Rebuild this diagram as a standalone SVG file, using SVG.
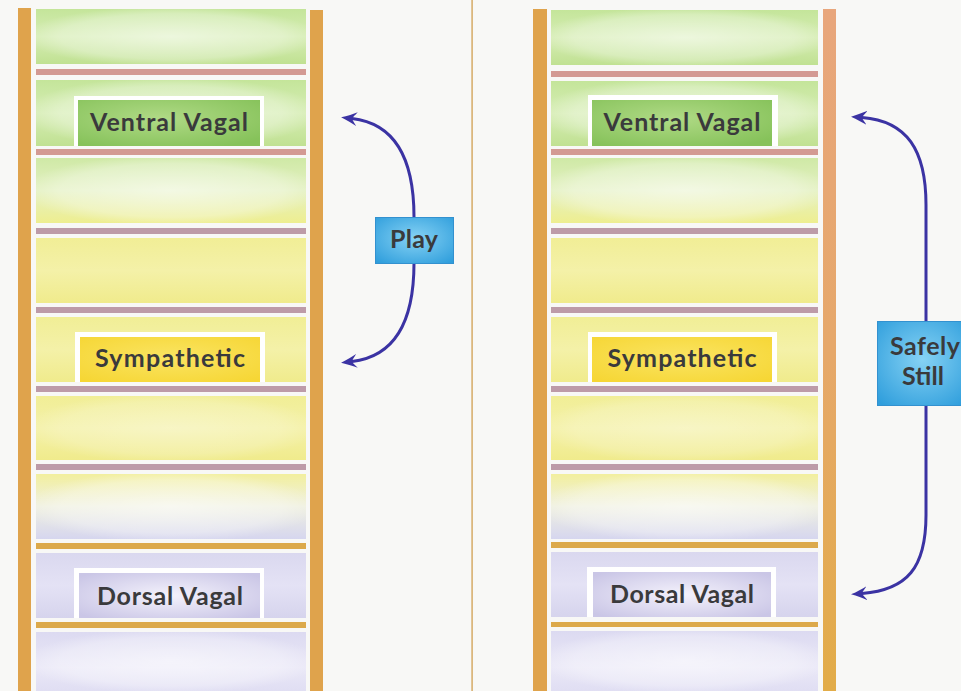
<svg xmlns="http://www.w3.org/2000/svg" width="961" height="691" viewBox="0 0 961 691">
  <defs>
    <style>
      .rail { fill: #dfa34c; }
      .rung-pink { fill: #d39a93; }
      .rung-mauve { fill: #bd9ba8; }
      .rung-gold { fill: #dca94b; }
      .mat { fill: #ffffff; }
      .lbl { font-family: Lato, "Open Sans", "Liberation Sans", sans-serif; font-weight: 700; fill: #3a3a3c; text-anchor: middle; font-size: 25px; }
      .conn { fill: none; stroke: #3b33a3; stroke-width: 3; stroke-linecap: round; }
      .tag { stroke: #3391cf; stroke-width: 1; }
    </style>
    <!-- band fills -->
    <linearGradient id="bGreen" x1="0" y1="0" x2="0" y2="1">
      <stop offset="0" stop-color="#c4e59a"/>
      <stop offset="0.5" stop-color="#d6edb4"/>
      <stop offset="1" stop-color="#c0e192"/>
    </linearGradient>
    <linearGradient id="bGreenYellow" x1="0" y1="0" x2="0" y2="1">
      <stop offset="0" stop-color="#cfe9a6"/>
      <stop offset="0.5" stop-color="#e4f1c2"/>
      <stop offset="1" stop-color="#eeee90"/>
    </linearGradient>
    <linearGradient id="bYellow" x1="0" y1="0" x2="0" y2="1">
      <stop offset="0" stop-color="#f1ee96"/>
      <stop offset="0.5" stop-color="#f4f1a8"/>
      <stop offset="1" stop-color="#f0eb8c"/>
    </linearGradient>
    <linearGradient id="bYellowLilac" x1="0" y1="0" x2="0" y2="1">
      <stop offset="0" stop-color="#f2ef9e"/>
      <stop offset="0.5" stop-color="#eff0e0"/>
      <stop offset="1" stop-color="#d6d6ef"/>
    </linearGradient>
    <linearGradient id="bLilac" x1="0" y1="0" x2="0" y2="1">
      <stop offset="0" stop-color="#dad8ef"/>
      <stop offset="0.5" stop-color="#e4e2f5"/>
      <stop offset="1" stop-color="#d6d4ed"/>
    </linearGradient>
    <linearGradient id="bLilacPale" x1="0" y1="0" x2="0" y2="1">
      <stop offset="0" stop-color="#dcdaf1"/>
      <stop offset="0.6" stop-color="#eae8f7"/>
      <stop offset="1" stop-color="#e0def3"/>
    </linearGradient>
    <radialGradient id="haze" cx="0.5" cy="0.5" r="0.55">
      <stop offset="0" stop-color="#ffffff" stop-opacity="0.55"/>
      <stop offset="0.75" stop-color="#ffffff" stop-opacity="0.3"/>
      <stop offset="1" stop-color="#ffffff" stop-opacity="0"/>
    </radialGradient>
    <!-- label fills -->
    <radialGradient id="lGreen" cx="0.45" cy="0.4" r="0.7">
      <stop offset="0" stop-color="#b0da86"/>
      <stop offset="1" stop-color="#86c25a"/>
    </radialGradient>
    <radialGradient id="lYellow" cx="0.5" cy="0.45" r="0.7">
      <stop offset="0" stop-color="#fae462"/>
      <stop offset="1" stop-color="#f6d634"/>
    </radialGradient>
    <radialGradient id="lLilac" cx="0.5" cy="0.5" r="0.65">
      <stop offset="0" stop-color="#f4f2fc"/>
      <stop offset="1" stop-color="#cac6e6"/>
    </radialGradient>
    <radialGradient id="lBlue" cx="0.5" cy="0.45" r="0.7">
      <stop offset="0" stop-color="#86d2f4"/>
      <stop offset="1" stop-color="#2f9edc"/>
    </radialGradient>
    <linearGradient id="railSalmon" x1="0" y1="0" x2="0" y2="1">
      <stop offset="0" stop-color="#e8a67c"/>
      <stop offset="0.5" stop-color="#e6a86a"/>
      <stop offset="1" stop-color="#e2ac48"/>
    </linearGradient>
    <marker id="head" viewBox="0 0 16 14" refX="5" refY="7" markerWidth="16" markerHeight="14" markerUnits="userSpaceOnUse" orient="auto">
      <path d="M16,7 C10,5 4,2 0,0 C3,4 5,6 5,7 C5,8 3,10 0,14 C4,12 10,9 16,7 Z" fill="#3b33a3"/>
    </marker>
  </defs>

  <!-- paper -->
  <rect width="961" height="691" fill="#f8f8f6"/>
  <rect x="471.3" y="0" width="1.6" height="691" fill="#d8b070"/>

  <!-- left ladder -->
  <g id="ladder-left">
    <rect x="36" y="9" width="270" height="55" fill="url(#bGreen)"/>
    <rect x="36" y="9" width="270" height="55" fill="url(#haze)"/>
    <rect x="36" y="80" width="270" height="66" fill="url(#bGreen)"/>
    <rect x="36" y="80" width="270" height="66" fill="url(#haze)"/>
    <rect x="36" y="158" width="270" height="65" fill="url(#bGreenYellow)"/>
    <rect x="36" y="158" width="270" height="65" fill="url(#haze)"/>
    <rect x="36" y="238" width="270" height="65" fill="url(#bYellow)"/>
    <rect x="36" y="317" width="270" height="65" fill="url(#bYellow)"/>
    <rect x="36" y="396" width="270" height="64" fill="url(#bYellow)"/>
    <rect x="36" y="396" width="270" height="64" fill="url(#haze)" opacity="0.6"/>
    <rect x="36" y="474" width="270" height="65" fill="url(#bYellowLilac)"/>
    <rect x="36" y="474" width="270" height="65" fill="url(#haze)"/>
    <rect x="36" y="553" width="270" height="65" fill="url(#bLilac)"/>
    <rect x="36" y="632" width="270" height="59" fill="url(#bLilacPale)"/>
    <rect x="36" y="632" width="270" height="59" fill="url(#haze)"/>

    <rect class="rung-pink" x="36" y="69" width="270" height="6"/>
    <rect class="rung-pink" x="36" y="149" width="270" height="6"/>
    <rect class="rung-mauve" x="36" y="228" width="270" height="6"/>
    <rect class="rung-mauve" x="36" y="307" width="270" height="6"/>
    <rect class="rung-mauve" x="36" y="386" width="270" height="6"/>
    <rect class="rung-mauve" x="36" y="464" width="270" height="6"/>
    <rect class="rung-gold" x="36" y="543" width="270" height="6"/>
    <rect class="rung-gold" x="36" y="622" width="270" height="6"/>

    <rect class="rail" x="18" y="8" width="13" height="683"/>
    <rect class="rail" x="310" y="10" width="13" height="681"/>
  </g>

  <!-- right ladder -->
  <g id="ladder-right">
    <rect x="551" y="10" width="267" height="55" fill="url(#bGreen)"/>
    <rect x="551" y="10" width="267" height="55" fill="url(#haze)"/>
    <rect x="551" y="81" width="267" height="65" fill="url(#bGreen)"/>
    <rect x="551" y="81" width="267" height="65" fill="url(#haze)"/>
    <rect x="551" y="158" width="267" height="65" fill="url(#bGreenYellow)"/>
    <rect x="551" y="158" width="267" height="65" fill="url(#haze)"/>
    <rect x="551" y="238" width="267" height="65" fill="url(#bYellow)"/>
    <rect x="551" y="317" width="267" height="65" fill="url(#bYellow)"/>
    <rect x="551" y="396" width="267" height="64" fill="url(#bYellow)"/>
    <rect x="551" y="396" width="267" height="64" fill="url(#haze)" opacity="0.6"/>
    <rect x="551" y="474" width="267" height="65" fill="url(#bYellowLilac)"/>
    <rect x="551" y="474" width="267" height="65" fill="url(#haze)"/>
    <rect x="551" y="552" width="267" height="65" fill="url(#bLilac)"/>
    <rect x="551" y="631" width="267" height="60" fill="url(#bLilacPale)"/>
    <rect x="551" y="631" width="267" height="60" fill="url(#haze)"/>

    <rect class="rung-pink" x="551" y="71" width="267" height="6"/>
    <rect class="rung-pink" x="551" y="149" width="267" height="6"/>
    <rect class="rung-mauve" x="551" y="228" width="267" height="6"/>
    <rect class="rung-mauve" x="551" y="307" width="267" height="6"/>
    <rect class="rung-mauve" x="551" y="386" width="267" height="6"/>
    <rect class="rung-mauve" x="551" y="464" width="267" height="6"/>
    <rect class="rung-gold" x="551" y="542" width="267" height="6"/>
    <rect class="rung-gold" x="551" y="622" width="267" height="5"/>

    <rect class="rail" x="533" y="9" width="14" height="682"/>
    <rect x="823" y="9" width="13" height="682" fill="url(#railSalmon)"/>
  </g>

  <!-- state labels, left -->
  <g id="ventral-left">
    <rect class="mat" x="74" y="96" width="190" height="50"/>
    <rect x="78" y="100" width="182" height="46" fill="url(#lGreen)"/>
    <text class="lbl" x="169" y="131" textLength="158">Ventral Vagal</text>
  </g>
  <g id="sympathetic-left">
    <rect class="mat" x="75" y="332" width="190" height="50"/>
    <rect x="80" y="337" width="180" height="45" fill="url(#lYellow)"/>
    <text class="lbl" x="170" y="367" textLength="150">Sympathetic</text>
  </g>
  <g id="dorsal-left">
    <rect class="mat" x="74" y="568" width="190" height="50"/>
    <rect x="79" y="573" width="181" height="45" fill="url(#lLilac)"/>
    <text class="lbl" x="170" y="605" textLength="146">Dorsal Vagal</text>
  </g>

  <!-- state labels, right -->
  <g id="ventral-right">
    <rect class="mat" x="588" y="95" width="190" height="51"/>
    <rect x="592" y="100" width="180" height="46" fill="url(#lGreen)"/>
    <text class="lbl" x="682" y="131" textLength="157">Ventral Vagal</text>
  </g>
  <g id="sympathetic-right">
    <rect class="mat" x="588" y="332" width="189" height="50"/>
    <rect x="592" y="337" width="180" height="45" fill="url(#lYellow)"/>
    <text class="lbl" x="682" y="367" textLength="149">Sympathetic</text>
  </g>
  <g id="dorsal-right">
    <rect class="mat" x="587" y="567" width="189" height="50"/>
    <rect x="593" y="572" width="178" height="45" fill="url(#lLilac)"/>
    <text class="lbl" x="682" y="603" textLength="144">Dorsal Vagal</text>
  </g>

  <!-- connectors -->
  <g id="connectors">
    <path class="conn" d="M414,217 C414,165 399,124 352,118.5" marker-end="url(#head)"/>
    <path class="conn" d="M414,263 C414,315 399,356 352,361.5" marker-end="url(#head)"/>
    <path class="conn" d="M926,321 L926,205 C926,150 907,121 862,117.5" marker-end="url(#head)"/>
    <path class="conn" d="M926,405 L926,515 C926,568 907,590 862,593.5" marker-end="url(#head)"/>
  </g>

  <!-- mode tags -->
  <g id="play">
    <rect class="tag" x="375.5" y="217.5" width="78" height="46" fill="url(#lBlue)"/>
    <text class="lbl" x="414" y="248" textLength="48">Play</text>
  </g>
  <g id="safely-still">
    <rect class="tag" x="877.5" y="321.5" width="90" height="84" fill="url(#lBlue)"/>
    <text class="lbl" x="925" y="355" textLength="70">Safely</text>
    <text class="lbl" x="923" y="385" textLength="42">Still</text>
  </g>
</svg>
